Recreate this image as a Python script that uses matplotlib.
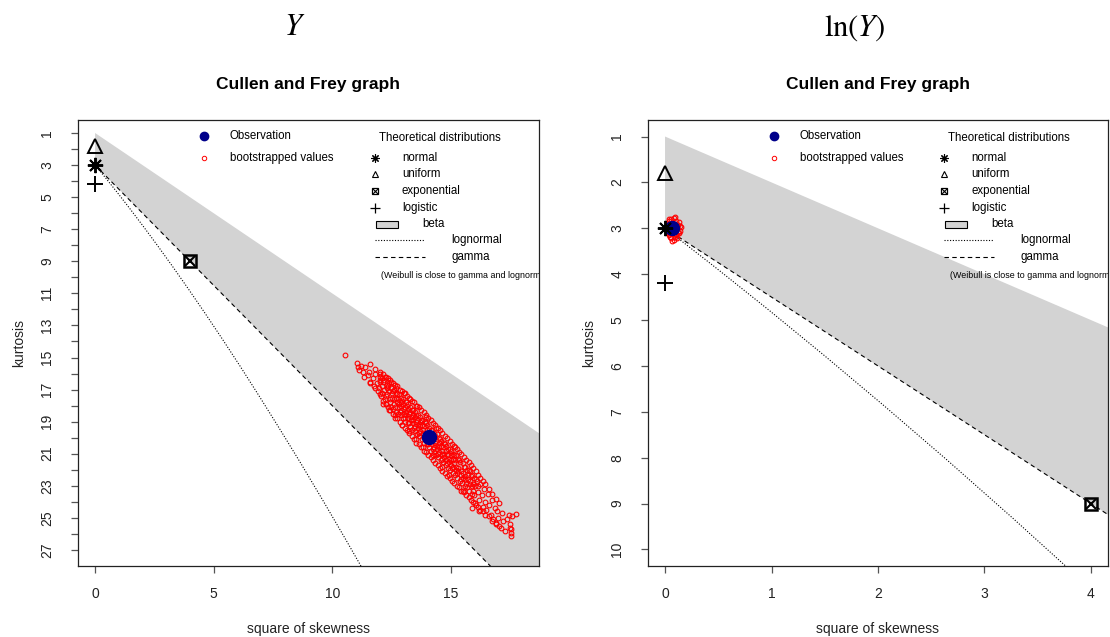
import numpy as np
import matplotlib.pyplot as plt

plt.rcParams['font.family'] = ['Liberation Sans', 'DejaVu Sans']
plt.rcParams['mathtext.fontset'] = 'stix'

# Cullen and Frey graphs for Y (left) and ln(Y) (right)

# theoretical points (square of skewness, kurtosis)
normal_pt = (0, 3)
uniform_pt = (0, 1.8)
logistic_pt = (0, 4.2)
expo_pt = (4, 9)

# lognormal curve
lnorm_s2 = [0, 0.182, 0.465, 0.961, 1.488, 2.048, 2.641, 3.267, 3.928, 4.624,
            5.356, 6.125, 6.931, 7.776, 8.66, 9.583, 10.547, 11.552]
lnorm_k = [3, 3.326, 3.838, 4.756, 5.758, 6.85, 8.035, 9.32, 10.71, 12.21,
           13.825, 15.56, 17.43, 19.43, 21.56, 23.85, 26.29, 28.88]

# left panel: Y
y_obs = (14.07, 19.95)
y_beta_s2 = [0, 18.72, 18.72, 0]
y_beta_k = [1, 19.72, 31.08, 3]
y_gamma_s2 = [0, 18.72]
y_gamma_k = [3, 31.08]
y_boot = [
    (10.54, 14.84), (11.05, 15.35), (11.10, 15.60), (11.20, 15.50), (11.30, 15.90),
    (11.15, 15.80), (11.40, 15.60), (11.35, 16.20), (11.50, 16.10), (11.60, 16.50),
    (11.55, 15.90), (11.70, 16.30), (11.80, 16.00), (11.75, 16.80), (11.90, 16.60),
    (11.95, 17.10), (12.00, 16.40),
    (12.02, 16.0), (11.98, 16.9), (12.05, 17.4), (12.0, 16.5),
    (12.1, 16.3), (12.12, 17.2), (12.08, 16.8), (12.13, 17.9),
    (12.2, 16.4), (12.18, 17.0), (12.23, 17.6), (12.21, 16.2),
    (12.3, 16.7), (12.32, 17.3), (12.28, 17.9), (12.31, 16.9),
    (12.4, 16.6), (12.38, 17.1), (12.42, 17.6), (12.41, 18.3),
    (12.5, 16.9), (12.52, 17.5), (12.48, 18.1), (12.51, 17.2), (12.47, 16.5),
    (12.6, 17.0), (12.62, 17.6), (12.58, 18.2), (12.61, 17.9), (12.63, 18.8),
    (12.7, 17.2), (12.72, 17.8), (12.68, 18.4), (12.71, 17.5), (12.69, 16.9),
    (12.8, 17.3), (12.82, 17.9), (12.78, 18.5), (12.81, 18.1), (12.79, 17.6),
    (12.9, 17.5), (12.92, 18.0), (12.88, 18.6), (12.91, 18.3), (12.89, 17.8), (12.93, 19.2),
    (13.0, 17.6), (13.02, 18.2), (12.98, 18.8), (13.01, 18.5), (12.99, 17.9), (13.03, 17.2),
    (13.1, 17.8), (13.12, 18.4), (13.08, 19.0), (13.11, 18.6), (13.09, 18.1),
    (13.2, 17.9), (13.22, 18.5), (13.18, 19.1), (13.21, 18.8), (13.19, 18.2), (13.23, 19.6),
    (13.3, 18.1), (13.32, 18.7), (13.28, 19.3), (13.31, 18.9), (13.29, 18.4), (13.27, 17.6),
    (13.4, 18.3), (13.42, 18.9), (13.38, 19.5), (13.41, 19.1), (13.39, 18.6),
    (13.5, 18.4), (13.52, 19.0), (13.48, 19.6), (13.51, 19.3), (13.49, 18.7), (13.53, 20.1),
    (13.6, 18.6), (13.62, 19.2), (13.58, 19.8), (13.61, 19.4), (13.59, 18.9), (13.57, 18.0),
    (13.7, 18.7), (13.72, 19.3), (13.68, 19.9), (13.71, 19.6), (13.69, 19.0),
    (13.8, 18.9), (13.82, 19.5), (13.78, 20.1), (13.81, 19.7), (13.79, 19.2), (13.83, 20.6),
    (13.9, 19.0), (13.92, 19.7), (13.88, 20.3), (13.91, 19.9), (13.89, 19.3),
    (14.0, 19.2), (14.02, 19.8), (13.98, 20.4), (14.01, 20.1), (13.99, 19.5), (13.97, 18.7),
    (14.1, 19.4), (14.12, 20.0), (14.08, 20.6), (14.11, 20.2), (14.09, 19.7),
    (14.2, 19.5), (14.22, 20.2), (14.18, 20.8), (14.21, 20.4), (14.19, 19.8), (14.23, 21.1),
    (14.3, 19.7), (14.32, 20.3), (14.28, 20.9), (14.31, 20.6), (14.29, 20.0),
    (14.4, 19.8), (14.42, 20.5), (14.38, 21.1), (14.41, 20.7), (14.39, 20.2), (14.37, 19.4),
    (14.5, 20.0), (14.52, 20.6), (14.48, 21.2), (14.51, 20.9), (14.49, 20.3),
    (14.6, 20.2), (14.62, 20.8), (14.58, 21.4), (14.61, 21.0), (14.59, 20.5), (14.63, 21.8),
    (14.7, 20.3), (14.72, 21.0), (14.68, 21.5), (14.71, 21.2), (14.69, 20.6),
    (14.8, 20.5), (14.82, 21.1), (14.78, 21.7), (14.81, 21.4), (14.79, 20.8),
    (14.9, 20.7), (14.92, 21.3), (14.88, 21.9), (14.91, 21.5), (14.89, 21.0), (14.93, 22.3),
    (15.0, 20.8), (15.02, 21.4), (14.98, 22.0), (15.01, 21.7), (14.99, 21.1),
    (15.1, 21.0), (15.12, 21.6), (15.08, 22.2), (15.11, 21.8), (15.09, 21.3),
    (15.2, 21.1), (15.22, 21.8), (15.18, 22.3), (15.21, 22.0), (15.19, 21.4), (15.17, 20.6),
    (15.3, 21.3), (15.32, 21.9), (15.28, 22.5), (15.31, 22.1),
    (15.4, 21.5), (15.42, 22.1), (15.38, 22.7), (15.41, 22.3),
    (15.5, 21.6), (15.52, 22.2), (15.48, 22.8), (15.51, 22.5), (15.53, 23.3),
    (15.6, 21.8), (15.62, 22.4), (15.58, 23.0), (15.61, 22.6),
    (15.7, 22.0), (15.72, 22.6), (15.68, 23.1), (15.71, 22.3),
    (15.8, 22.1), (15.82, 22.7), (15.78, 23.3), (15.81, 22.9),
    (15.9, 22.3), (15.92, 22.9), (15.88, 23.5), (15.91, 23.0), (15.9, 24.4),
    (16.0, 22.5), (16.02, 23.0), (15.98, 23.6), (16.01, 24.1),
    (16.1, 22.7), (16.15, 23.4), (16.2, 23.9), (16.25, 22.9), (16.3, 23.6),
    (16.35, 24.3), (16.4, 23.2), (16.45, 24.0), (16.5, 24.5), (16.55, 23.5),
    (16.6, 24.2), (16.7, 24.8), (16.75, 23.9), (16.8, 25.1), (16.85, 24.4),
    (16.9, 25.4), (16.95, 24.6), (17.0, 25.0), (17.1, 25.6), (17.15, 24.7),
    (17.2, 25.2), (17.3, 25.8), (17.35, 25.1), (17.45, 24.8), (17.5, 25.4),
    (17.55, 25.7), (17.56, 25.95), (17.6, 24.9), (16.2, 24.6), (17.74, 24.75),
    (17.49, 25.6), (17.52, 26.1),
]
# outer ring of the bootstrap cloud
y_boot_outer = [
    (11.6, 15.4), (11.6, 16.6), (11.8, 15.7), (11.8, 16.9),
    (12.0, 15.9), (12.0, 17.3), (12.0, 16.2), (12.15, 16.0), (12.15, 17.7), (12.15, 16.5),
    (12.25, 16.2), (12.25, 17.9), (12.25, 17.4), (12.35, 16.3), (12.35, 18.1), (12.35, 16.8),
    (12.45, 16.4), (12.45, 18.3), (12.45, 17.8), (12.55, 16.6), (12.55, 18.5), (12.55, 17.1),
    (12.65, 16.7), (12.65, 18.6), (12.65, 18.1), (12.75, 16.8), (12.75, 18.8), (12.75, 17.3),
    (12.85, 17.0), (12.85, 19.0), (12.85, 18.4), (12.95, 17.1), (12.95, 19.2), (12.95, 17.7),
    (13.05, 17.2), (13.05, 19.4), (13.05, 18.8), (13.15, 17.4), (13.15, 19.5), (13.15, 18.0),
    (13.25, 17.5), (13.25, 19.7), (13.25, 19.1), (13.35, 17.7), (13.35, 19.9), (13.35, 18.3),
    (13.45, 17.8), (13.45, 20.1), (13.45, 19.4), (13.55, 18.0), (13.55, 20.3), (13.55, 18.6),
    (13.65, 18.1), (13.65, 20.4), (13.65, 19.7), (13.75, 18.3), (13.75, 20.6), (13.75, 18.9),
    (13.85, 18.4), (13.85, 20.8), (13.85, 20.0), (13.95, 18.6), (13.95, 20.9), (13.95, 19.1),
    (14.05, 18.8), (14.05, 21.1), (14.05, 20.4), (14.15, 18.9), (14.15, 21.2), (14.15, 19.5),
    (14.25, 19.1), (14.25, 21.4), (14.25, 20.7), (14.35, 19.2), (14.35, 21.6), (14.35, 19.9),
    (14.45, 19.4), (14.45, 21.7), (14.45, 21.0), (14.55, 19.5), (14.55, 21.9), (14.55, 20.1),
    (14.65, 19.7), (14.65, 22.1), (14.65, 21.3), (14.75, 19.9), (14.75, 22.2), (14.75, 20.4),
    (14.85, 20.0), (14.85, 22.4), (14.85, 21.6), (14.95, 20.2), (14.95, 22.5), (14.95, 20.7),
    (15.05, 20.4), (15.05, 22.7), (15.05, 21.9), (15.15, 20.5), (15.15, 22.8), (15.15, 21.1),
    (15.25, 20.7), (15.25, 23.0), (15.25, 22.2), (15.35, 20.9), (15.35, 23.1), (15.35, 21.4),
    (15.45, 21.0), (15.45, 23.3), (15.45, 22.6), (15.55, 21.2), (15.55, 23.4), (15.55, 21.8),
    (15.65, 21.4), (15.65, 23.6), (15.65, 22.9), (15.75, 21.5), (15.75, 23.7), (15.75, 22.0),
    (15.85, 21.7), (15.85, 23.9), (15.85, 22.4), (15.95, 21.9), (15.95, 24.0), (15.95, 23.3),
    (16.05, 22.1), (16.05, 24.2), (16.05, 22.6), (16.15, 22.3), (16.15, 24.3), (16.15, 23.0),
    (16.25, 22.5), (16.25, 24.5), (16.35, 22.7), (16.35, 24.6), (16.45, 22.9), (16.45, 24.8),
    (16.6, 23.2), (16.6, 24.9), (16.75, 23.5), (16.75, 25.2), (16.9, 23.8), (16.9, 25.3),
    (17.05, 24.1), (17.05, 25.5),
]

# right panel: ln(Y)
ln_obs = (0.065, 3.0)
ln_beta_s2 = [0, 4.16, 4.16, 0]
ln_beta_k = [1, 5.16, 9.24, 3]
ln_gamma_s2 = [0, 4.16]
ln_gamma_k = [3, 9.24]
ln_boot_s2 = [0.02, 0.03, 0.04, 0.05, 0.06, 0.07, 0.08, 0.09, 0.10, 0.11,
              0.12, 0.13, 0.14, 0.03, 0.05, 0.07, 0.09, 0.11, 0.04, 0.06,
              0.08, 0.10, 0.12, 0.05, 0.07, 0.09, 0.06, 0.08, 0.10, 0.15,
              0.13, 0.11, 0.04, 0.02, 0.14, 0.09]
ln_boot_k = [2.95, 3.10, 2.85, 3.20, 2.80, 3.05, 3.25, 2.90, 3.15, 3.00,
             2.92, 3.10, 3.05, 3.02, 3.10, 2.88, 3.18, 2.95, 2.80, 3.22,
             2.98, 2.85, 3.08, 2.90, 3.28, 3.05, 3.00, 2.78, 3.12, 2.98,
             2.86, 3.22, 3.15, 3.08, 2.95, 2.76]

W, H = 1110, 637
fig = plt.figure(figsize=(W / 100, H / 100), dpi=100)
ax1 = fig.add_axes([78 / W, 71 / H, 461 / W, 446 / H])
ax2 = fig.add_axes([648 / W, 71 / H, 460 / W, 446 / H])

AXW, AXH = 461.0, 446.0
GREY = '#d3d3d3'


def P(dx, dy):
    return dx / AXW, 1 - dy / AXH


def draw_legend(ax):
    tr = ax.transAxes
    fs = 8.3
    kw = dict(transform=tr, clip_on=False)
    ax.plot(*P(126, 16), 'o', color='#00008b', ms=6, **kw)
    ax.text(*P(152, 16), 'Observation', fontsize=fs, va='center', transform=tr)
    ax.plot(*P(126, 38), 'o', mfc='none', mec='red', ms=3.2, mew=0.7, **kw)
    ax.text(*P(152, 38), 'bootstrapped values', fontsize=fs, va='center', transform=tr)
    ax.text(*P(301, 18), 'Theoretical distributions', fontsize=fs, va='center', transform=tr)
    ax.plot(*P(297, 38), marker=(8, 2, 0), color='k', ms=6, mew=0.8, **kw)
    ax.text(*P(324, 38), 'normal', fontsize=fs, va='center', transform=tr)
    ax.plot(*P(297, 54), '^', mfc='none', mec='k', ms=5, mew=0.8, **kw)
    ax.text(*P(324, 54), 'uniform', fontsize=fs, va='center', transform=tr)
    ax.plot(*P(297, 71), 's', mfc='none', mec='k', ms=4.5, mew=0.9, **kw)
    ax.plot(*P(297, 71), 'x', color='k', ms=4, mew=0.8, **kw)
    ax.text(*P(324, 71), 'exponential', fontsize=fs, va='center', transform=tr)
    ax.plot(*P(297, 88), '+', color='k', ms=7, mew=0.9, **kw)
    ax.text(*P(324, 88), 'logistic', fontsize=fs, va='center', transform=tr)
    x0, y0 = P(298, 108)
    x1, y1 = P(320, 101)
    ax.add_patch(plt.Rectangle((x0, y0), x1 - x0, y1 - y0, transform=tr,
                               facecolor=GREY, edgecolor='k', lw=0.8, clip_on=False))
    ax.text(*P(344, 104), 'beta', fontsize=fs, va='center', transform=tr)
    xa, ya = P(297, 120)
    xb, _ = P(347, 120)
    ax.plot([xa, xb], [ya, ya], color='k', lw=0.8, ls=(0, (1, 1.5)), **kw)
    ax.text(*P(373, 120), 'lognormal', fontsize=fs, va='center', transform=tr)
    xa, ya = P(297, 137)
    ax.plot([xa, xb], [ya, ya], color='k', lw=0.8, ls=(0, (4, 3)), **kw)
    ax.text(*P(373, 137), 'gamma', fontsize=fs, va='center', transform=tr)
    ax.text(*P(303, 156), '(Weibull is close to gamma and lognormal)', fontsize=6.4,
            va='center', transform=tr, clip_on=True)


def draw_panel(ax, beta_s2, beta_k, gamma_s2, gamma_k, boot_s2, boot_k, obs,
               xlim, ylim, xticks, yticks, ylabels):
    ax.fill(beta_s2, beta_k, color=GREY, lw=0, zorder=1)
    ax.plot(lnorm_s2, lnorm_k, color='k', lw=0.8, ls=(0, (1, 1.5)), zorder=2)
    ax.plot(gamma_s2, gamma_k, color='k', lw=0.8, ls=(0, (4, 3)), zorder=2)
    ax.plot(boot_s2, boot_k, 'o', mfc='none', mec='red', ms=3.4, mew=0.8, zorder=3)
    ax.plot(*obs, 'o', color='#00008b', ms=10, zorder=4)
    ax.plot(*uniform_pt, '^', mfc='none', mec='k', ms=10, mew=1.4, zorder=5)
    ax.plot(*logistic_pt, '+', color='k', ms=12, mew=1.4, zorder=5)
    ax.plot(*expo_pt, 's', mfc='none', mec='k', ms=8.5, mew=1.8, zorder=5)
    ax.plot(*expo_pt, 'x', color='k', ms=7, mew=1.5, zorder=5)
    ax.plot(*normal_pt, marker=(8, 2, 0), color='k', ms=11, mew=1.4, zorder=6)

    ax.set_xlim(*xlim)
    ax.set_ylim(*ylim)
    ax.set_xticks(xticks)
    ax.set_yticks(yticks)
    ax.set_yticklabels(ylabels)
    ax.tick_params(axis='both', length=5, width=0.9, color='#555555',
                   labelsize=10, labelcolor='#222222')
    ax.tick_params(axis='x', pad=10)
    ax.tick_params(axis='y', pad=12, labelrotation=90)
    for lab in ax.get_yticklabels():
        lab.set_va('center')
    for sp in ax.spines.values():
        sp.set_linewidth(0.9)
        sp.set_color('#222222')
    ax.set_xlabel('square of skewness', fontsize=10, labelpad=15, color='#222222')
    ax.set_ylabel('kurtosis', fontsize=10, labelpad=10, color='#222222')
    ax.set_title('Cullen and Frey graph', fontsize=12.5, fontweight='bold', pad=22)
    draw_legend(ax)


y_s2, y_k = np.array(y_boot + y_boot_outer).T
left_yticks = list(range(1, 28))
left_ylabels = [str(t) if t % 2 == 1 else '' for t in left_yticks]
draw_panel(ax1, y_beta_s2, y_beta_k, y_gamma_s2, y_gamma_k, y_s2, y_k, y_obs,
           (-0.72, 18.72), (28.0, 0.19), [0, 5, 10, 15], left_yticks, left_ylabels)

right_yticks = list(range(1, 11))
draw_panel(ax2, ln_beta_s2, ln_beta_k, ln_gamma_s2, ln_gamma_k, ln_boot_s2, ln_boot_k,
           ln_obs, (-0.16, 4.16), (10.36, 0.64), [0, 1, 2, 3, 4], right_yticks,
           [str(t) for t in right_yticks])

fig.text(295 / W, 1 - 27 / H, r'$Y$', fontsize=22, ha='center', va='center')
fig.text(855 / W, 1 - 28 / H, r'$\mathrm{ln}(Y)$', fontsize=22, ha='center', va='center')

fig.savefig('out.png', dpi=100)
